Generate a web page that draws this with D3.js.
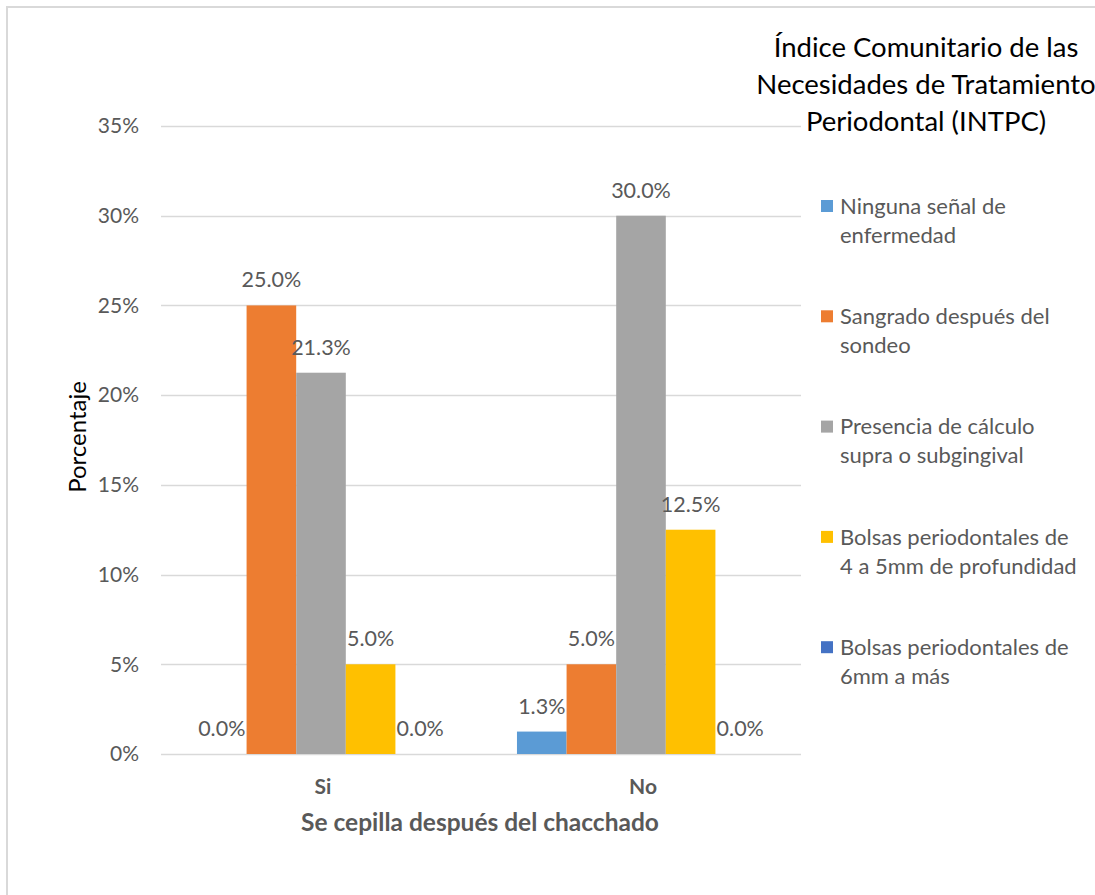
<!DOCTYPE html>
<html><head><meta charset="utf-8">
<script src="https://cdn.jsdelivr.net/npm/d3@7"></script>
<style>body{margin:0;background:#fff}svg{display:block;font-family:Lato,"Open Sans",sans-serif}</style>
</head><body><svg id="c" width="1095" height="895"></svg>
<script>
const categories = ["Si", "No"];
const seriesNames = ["Ninguna señal de enfermedad", "Sangrado después del sondeo", "Presencia de cálculo supra o subgingival", "Bolsas periodontales de 4 a 5mm de profundidad", "Bolsas periodontales de 6mm a más"];
const legendLines = [["Ninguna señal de","enfermedad"],["Sangrado después del","sondeo"],["Presencia de cálculo","supra o subgingival"],["Bolsas periodontales de","4 a 5mm de profundidad"],["Bolsas periodontales de","6mm a más"]];
const seriesColors = ["#5B9BD5", "#ED7D31", "#A5A5A5", "#FFC000", "#4472C4"];
const valuesSi = [0, 25.0, 21.25, 5.0, 0];
const valuesNo = [1.25, 5.0, 30.0, 12.5, 0];
const yTicks = [0, 5, 10, 15, 20, 25, 30, 35];
const titleLines = ["Índice Comunitario de las", "Necesidades de Tratamiento", "Periodontal (INTPC)"];
const yTitle = "Porcentaje";
const xTitle = "Se cepilla después del chacchado";

const values = {Si: valuesSi, No: valuesNo};
const svg = d3.select("#c");
const pLeft = 161, pRight = 801, pTop = 126, pBottom = 754;

svg.append("rect").attr("x",7).attr("y",7).attr("width",1200).attr("height",1000)
  .attr("fill","#fff").attr("stroke","#D9D9D9").attr("stroke-width",2);

const y = d3.scaleLinear().domain([0,35]).range([pBottom, pTop]);
const x0 = d3.scaleBand().domain(categories).range([pLeft, pRight]).padding(0);
const x1 = d3.scaleBand().domain(d3.range(seriesNames.length)).range([0, x0.bandwidth()]).paddingInner(0).paddingOuter(0.725);

// gridlines
svg.append("g").selectAll("line").data(yTicks).join("line")
  .attr("x1", pLeft).attr("x2", pRight)
  .attr("y1", d => Math.round(y(d))+0.5).attr("y2", d => Math.round(y(d))+0.5)
  .attr("stroke", "#D9D9D9").attr("stroke-width", 1.3);

// y tick labels
svg.append("g").selectAll("text").data(yTicks).join("text")
  .attr("x", 139).attr("y", d => y(d)).attr("dy","0.35em")
  .attr("text-anchor","end").attr("fill","#595959").attr("font-size",21)
  .text(d => d + "%");

// bars
const g = svg.append("g");
categories.forEach(cat => {
  const gx = x0(cat);
  values[cat].forEach((v, i) => {
    g.append("rect")
      .attr("x", gx + x1(i)).attr("width", x1.bandwidth())
      .attr("y", y(v)).attr("height", pBottom - y(v))
      .attr("fill", seriesColors[i]);
  });
});
categories.forEach(cat => {
  const gx = x0(cat);
  values[cat].forEach((v, i) => {
    g.append("text")
      .attr("x", gx + x1(i) + x1.bandwidth()/2).attr("y", y(v) - 18)
      .attr("text-anchor","middle").attr("fill","#595959").attr("font-size",21.5)
      .text(v.toFixed(1) + "%");
  });
});

// x tick labels
svg.append("g").selectAll("text").data(categories).join("text")
  .attr("x", d => x0(d) + x0.bandwidth()/2 + 2).attr("y", 794)
  .attr("text-anchor","middle").attr("fill","#595959").attr("font-size",21).attr("font-weight","bold")
  .text(d => d);

svg.append("text").attr("x", 480).attr("y", 831)
  .attr("text-anchor","middle").attr("fill","#595959").attr("font-size",24.5).attr("font-weight","bold")
  .text(xTitle);

svg.append("text").attr("transform","translate(78,437) rotate(-90)").attr("dy","0.35em")
  .attr("text-anchor","middle").attr("fill","#000").attr("font-size",24)
  .text(yTitle);

// title
svg.append("g").selectAll("text").data(titleLines).join("text")
  .attr("x", 926).attr("y", (d,i) => 47 + i*37).attr("dy","0.35em")
  .attr("text-anchor","middle").attr("fill","#000").attr("font-size",27.5)
  .text(d => d);

// legend
const lg = svg.append("g");
legendLines.forEach((lines, i) => {
  const cy = 206 + i*110.3;
  lg.append("rect").attr("x", 821).attr("y", cy - 6).attr("width", 12).attr("height", 12).attr("fill", seriesColors[i]);
  lines.forEach((t, j) => {
    lg.append("text").attr("x", 840).attr("y", cy + j*29).attr("dy","0.35em")
      .attr("fill","#595959").attr("font-size",22).text(t);
  });
});
</script></body></html>
